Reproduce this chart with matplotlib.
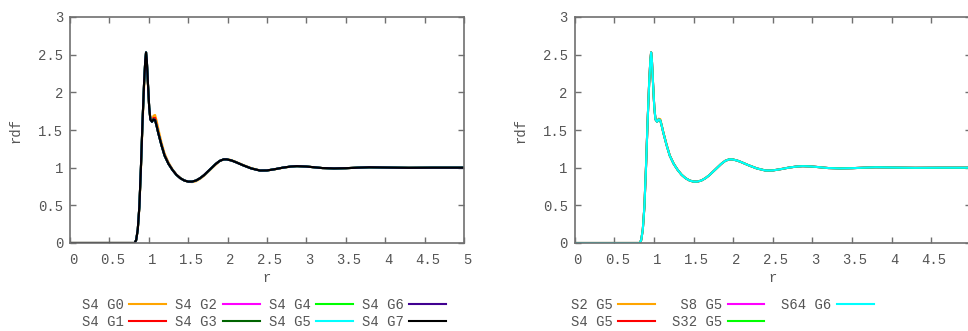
import matplotlib
matplotlib.use("Agg")
import matplotlib.pyplot as plt
from matplotlib.ticker import FuncFormatter
import matplotlib.transforms as mtransforms

plt.rcParams['font.family'] = ['Liberation Mono', 'DejaVu Sans Mono']

# ---------------- data ----------------
r = [0.0, 0.5, 0.80, 0.82, 0.84, 0.86, 0.88, 0.90, 0.92, 0.94, 0.955, 0.965,
     0.975, 0.99, 1.005, 1.02, 1.04, 1.06, 1.08, 1.10, 1.12, 1.16, 1.20, 1.25,
     1.30, 1.35, 1.40, 1.45, 1.50, 1.55, 1.60, 1.65, 1.70, 1.75, 1.80, 1.85,
     1.90, 1.95, 1.99, 2.05, 2.10, 2.20, 2.30, 2.41, 2.50, 2.60, 2.70, 2.80,
     2.88, 3.00, 3.10, 3.20, 3.35, 3.50, 3.65, 3.80, 4.00, 4.30, 4.60, 5.00]

rdf_s4_g0 = [0, 0, 0, 0.0, 0.04, 0.17, 0.46, 0.96, 1.55, 2.05, 2.36, 2.46,
             2.38, 2.08, 1.80, 1.65, 1.63, 1.69, 1.70, 1.62, 1.52, 1.34, 1.19, 1.07,
             0.98, 0.91, 0.865, 0.83, 0.812, 0.808, 0.82, 0.85, 0.89, 0.94, 0.99, 1.04,
             1.085, 1.11, 1.115, 1.10, 1.08, 1.035, 0.995, 0.965, 0.963, 0.978, 0.998, 1.013,
             1.02, 1.015, 1.005, 0.995, 0.99, 0.993, 1.0, 1.005, 1.002, 0.998, 1.0, 1.0]

rdf_s4_g1 = [0, 0, 0, 0.0, 0.04, 0.18, 0.48, 1.0, 1.6, 2.12, 2.42, 2.53,
             2.42, 2.1, 1.8, 1.64, 1.62, 1.66, 1.66, 1.57, 1.47, 1.31, 1.17, 1.055,
             0.972, 0.906, 0.86, 0.83, 0.815, 0.814, 0.83, 0.86, 0.90, 0.95, 1.00, 1.05,
             1.09, 1.11, 1.11, 1.095, 1.075, 1.03, 0.99, 0.962, 0.963, 0.98, 1.0, 1.015,
             1.02, 1.015, 1.005, 0.995, 0.99, 0.993, 1.0, 1.005, 1.002, 0.998, 1.0, 1.0]

rdf_s4_g2 = rdf_s4_g3 = rdf_s4_g4 = rdf_s4_g5 = rdf_s4_g6 = rdf_s4_g7 = [
             0, 0, 0, 0.0, 0.04, 0.18, 0.48, 1.0, 1.6, 2.12, 2.42, 2.53,
             2.42, 2.1, 1.8, 1.64, 1.61, 1.64, 1.63, 1.55, 1.46, 1.30, 1.16, 1.05,
             0.97, 0.905, 0.86, 0.83, 0.815, 0.815, 0.83, 0.86, 0.90, 0.95, 1.00, 1.05,
             1.09, 1.11, 1.11, 1.095, 1.075, 1.03, 0.99, 0.962, 0.963, 0.98, 1.0, 1.015,
             1.02, 1.015, 1.005, 0.995, 0.99, 0.993, 1.0, 1.005, 1.002, 0.998, 1.0, 1.0]

rdf_s2_g5 = [0, 0, 0, 0.0, 0.04, 0.18, 0.48, 1.0, 1.6, 2.12, 2.42, 2.53,
             2.42, 2.1, 1.8, 1.64, 1.62, 1.65, 1.645, 1.56, 1.47, 1.31, 1.165, 1.055,
             0.972, 0.906, 0.86, 0.83, 0.815, 0.815, 0.83, 0.86, 0.90, 0.95, 1.00, 1.05,
             1.09, 1.11, 1.11, 1.095, 1.075, 1.03, 0.99, 0.962, 0.963, 0.98, 1.0, 1.015,
             1.02, 1.015, 1.005, 0.995, 0.99, 0.993, 1.0, 1.005, 1.002, 0.998, 1.0, 1.0]
rdf_s8_g5 = rdf_s32_g5 = rdf_s64_g6 = rdf_s4_g7

left_labels = ["S4 G0", "S4 G1", "S4 G2", "S4 G3", "S4 G4", "S4 G5", "S4 G6", "S4 G7"]
left_series = [rdf_s4_g0, rdf_s4_g1, rdf_s4_g2, rdf_s4_g3, rdf_s4_g4, rdf_s4_g5, rdf_s4_g6, rdf_s4_g7]
left_colors = ["#ffa500", "#ff0000", "#ff00ff", "#006400", "#00ff00", "#00ffff", "#400090", "#000000"]

right_labels = ["S2 G5", "S4 G5", " S8 G5", "S32 G5", "S64 G6"]
right_series = [rdf_s2_g5, rdf_s4_g5, rdf_s8_g5, rdf_s32_g5, rdf_s64_g6]
right_colors = ["#ffa500", "#ff0000", "#ff00ff", "#00ff00", "#00ffff"]

x_ticks = [0, 0.5, 1, 1.5, 2, 2.5, 3, 3.5, 4, 4.5, 5]
y_ticks = [0, 0.5, 1, 1.5, 2, 2.5, 3]

# ---------------- figure ----------------
W, H = 968, 331
fig = plt.figure(figsize=(W / 100, H / 100), dpi=100)

TEXT = "#555555"
SPINE = "#707070"

def px_axes(x0, x1, y0, y1):
    return fig.add_axes([x0 / W, 1 - y1 / H, (x1 - x0) / W, (y1 - y0) / H])

axL = px_axes(70, 464, 17, 243)
axR = px_axes(574.7, 970.7, 17, 243)

fmt = FuncFormatter(lambda v, p: "%g" % v)
# right panel runs past the picture edge; its last x label is not shown
fmt_right = FuncFormatter(lambda v, p: "" if v >= 5 else "%g" % v)
for ax, series, labels, colors, xf in [
        (axL, left_series, left_labels, left_colors, fmt),
        (axR, right_series, right_labels, right_colors, fmt_right)]:
    for s, lab, c in zip(series, labels, colors):
        ax.plot(r, s, color=c, lw=1.5, label=lab, solid_joinstyle='round')
    ax.set_xlim(0, 5)
    ax.set_ylim(0, 3)
    ax.set_xticks(x_ticks)
    ax.set_yticks(y_ticks)
    ax.xaxis.set_major_formatter(xf)
    ax.yaxis.set_major_formatter(fmt)
    ax.tick_params(direction='in', length=4, width=1, color=SPINE,
                   top=True, right=True, labelsize=10, labelcolor=TEXT)
    ax.tick_params(axis='x', pad=7)
    ax.tick_params(axis='y', pad=5)
    for lbl in ax.get_xticklabels():
        lbl.set_transform(lbl.get_transform() +
                          mtransforms.ScaledTranslation(3 / 100, 0, fig.dpi_scale_trans))
    for sp in ax.spines.values():
        sp.set_color(SPINE)
        sp.set_linewidth(1.2)
    ax.set_xlabel("r", fontsize=10, color=TEXT)
    ax.set_ylabel("rdf", fontsize=10, color=TEXT)
    ax.yaxis.set_label_coords(-0.12, 0.5)
    ax.xaxis.set_label_coords(0.5, -0.125)

legL = axL.legend(ncol=4, loc='upper left', bbox_to_anchor=(82 / W, 1 - 298 / H),
                  bbox_transform=fig.transFigure, frameon=False, markerfirst=False,
                  borderpad=0, borderaxespad=0, handlelength=2.66, handletextpad=0.38,
                  columnspacing=0.67, labelspacing=0.22, fontsize=10)
legR = axR.legend(ncol=3, loc='upper left', bbox_to_anchor=(570.7 / W, 1 - 298 / H),
                  bbox_transform=fig.transFigure, frameon=False, markerfirst=False,
                  borderpad=0, borderaxespad=0, handlelength=2.66, handletextpad=0.4,
                  columnspacing=1.2, labelspacing=0.22, fontsize=10)
for leg in (legL, legR):
    for t in leg.get_texts():
        t.set_color(TEXT)
    for l in leg.get_lines():
        l.set_linewidth(1.5)

fig.savefig("out.png", dpi=100)
